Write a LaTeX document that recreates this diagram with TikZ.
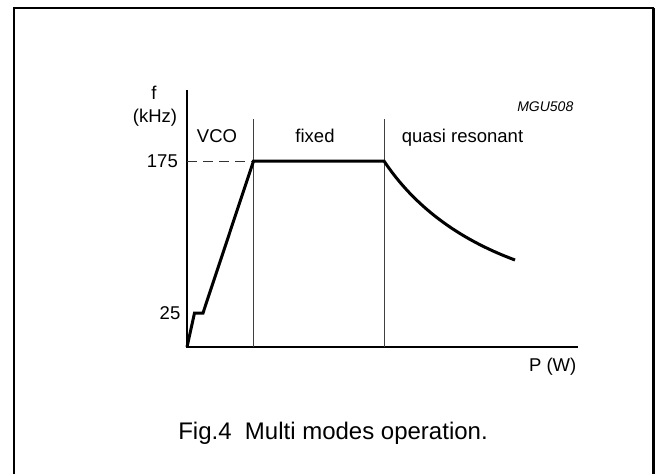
\documentclass[tikz,border=0pt]{standalone}
\usepackage{fontspec}
\setmainfont{Liberation Sans}
\begin{document}
\begin{tikzpicture}[x=1pt,y=-1pt,
  lbl/.style={inner sep=0pt, anchor=base, font=\fontsize{18.5}{22}\selectfont},
  capt/.style={inner sep=0pt, anchor=base, font=\fontsize{24}{28}\selectfont},
  tag/.style={inner sep=0pt, anchor=base east, font=\fontsize{14}{16}\selectfont\itshape},
  axisline/.style={line width=1.5pt, black},
  divider/.style={line width=1pt, black!75},
  guide/.style={line width=0.9pt, black!80, dash pattern=on 10pt off 6pt},
  curveline/.style={line width=3pt, black, line join=miter},
  frameline/.style={line width=2pt, black}]
\useasboundingbox (0,0) rectangle (655,474);
% frame
\coordinate (FL) at (13.5,474);
\coordinate (FTL) at (13.5,7.5);
\coordinate (FTR) at (653.5,7.5);
\coordinate (FR) at (653.5,474);
\draw[frameline] (FL) -- (FTL) -- (FTR);
\draw[line width=3pt] (FTR) -- (FR);
% axes
\coordinate (O) at (187,347);
\coordinate (Ytop) at (187,90);
\coordinate (Xend) at (578,347);
\draw[axisline] (Ytop) -- (O) -- (Xend);
% curve points
\coordinate (A) at (194.5,313);
\coordinate (B) at (203,313);
\coordinate (C) at (253.5,161);
\coordinate (D) at (384,161);
\coordinate (E) at (515,260);
% dividers
\coordinate (D1t) at (253.5,119);
\coordinate (D1b) at (253.5,347);
\coordinate (D2t) at (384,119);
\coordinate (D2b) at (384,347);
\draw[divider] (D1t) -- (D1b);
\draw[divider] (D2t) -- (D2b);
% dashed guide
\draw[guide] (O |- C) -- (C);
% characteristic
\draw[curveline] (O) -- (A) -- (B) -- (C) -- (D) .. controls (413.8,205.7) and (457.5,238.7) .. (E);
% labels
\node[lbl] (f) at (154,99.5) {f};
\node[lbl] (khz) at (155,122.5) {(kHz)};
\node[tag] (mgu) at (573.5,111.5) {MGU508};
\node[lbl] (vco) at (217,142.7) {VCO};
\node[lbl] (fixed) at (315,142.7) {fixed};
\node[lbl] (qr) at (462.5,142.7) {quasi resonant};
\node[lbl, anchor=base east] (t175) at (178,167.7) {175};
\node[lbl, anchor=base east] (t25) at (180.5,319.6) {25};
\node[lbl] (pw) at (552.7,371) {P (W)};
\node[capt] (cap) at (333,439.3) {Fig.4\ \ Multi modes operation.};
\end{tikzpicture}
\end{document}
